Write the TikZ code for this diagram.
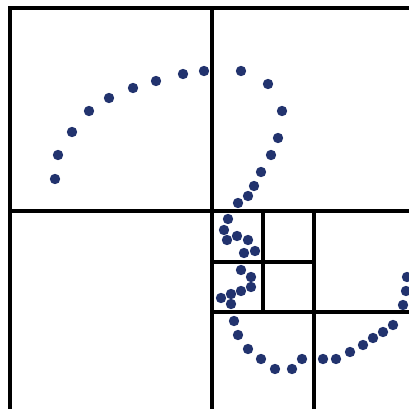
\documentclass[tikz,border=0pt]{standalone}
\begin{document}
\begin{tikzpicture}[x=1pt,y=-1pt,
  thickline/.style={line width=3.8pt,black},
  midline/.style={line width=3.4pt,black},
  thinline/.style={line width=3.1pt,black},
  dot/.style={circle,fill=dotblue,inner sep=0pt,minimum size=10.4pt}]
\definecolor{dotblue}{RGB}{34,51,110}
\useasboundingbox (0,0) rectangle (409,409);
\fill[white] (0,0) rectangle (409,409);
\clip (0,0) rectangle (409,409);
% frame lines
\draw[thickline] (10,415) -- (10,8) -- (415,8);
\draw[midline] (212,8) -- (212,415);
\draw[midline] (10,211) -- (415,211);
\draw[midline] (314,211) -- (314,415);
\draw[midline] (212,312) -- (415,312);
\draw[thinline] (263,211) -- (263,312);
\draw[thinline] (212,262) -- (314,262);
% dots
\foreach \p [count=\i] in {(55,179),(58,155),(72,132),(89,111),(109,98),(133,88),(156,81),(183,74),(204,71),
  (241,71),(268,84),(282,111),(278,138),(271,155),(261,172),(254,186),(248,196),(238,203),
  (228,219),(224,230),(227,240),(237,236),(248,240),(255,251),(244,253),
  (241,270),(251,277),(251,287),(241,291),(231,294),(221,298),(231,304),
  (234,321),(238,335),(248,349),(261,359),(275,369),(292,369),(302,359),
  (323,359),(336,359),(350,352),(363,345),(373,338),(383,332),(393,325),
  (403,305),(406,291),(407,277)}
  \node[dot] (d\i) at \p {};
\end{tikzpicture}
\end{document}
